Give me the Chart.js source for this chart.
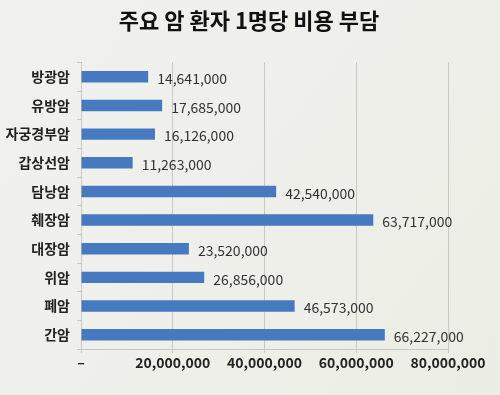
<!DOCTYPE html>
<html><head><meta charset="utf-8">
<script src="https://cdn.jsdelivr.net/npm/chart.js@4/dist/chart.umd.min.js"></script>
<style>html,body{margin:0;padding:0;background:#f0f0ec}#wrap{width:500px;height:395px}</style>
</head><body><div id="wrap"><canvas id="c" width="500" height="395"></canvas></div>
<script>
const categories = ['방광암','유방암','자궁경부암','갑상선암','담낭암','췌장암','대장암','위암','폐암','간암'];
const values = [14641000,17685000,16126000,11263000,42540000,63717000,23520000,26856000,46573000,66227000];
const xTicks = [0,20000000,40000000,60000000,80000000];
const title = '주요 암 환자 1명당 비용 부담';
const KR = '"Noto Sans CJK KR", "Noto Sans", sans-serif';
const fmt = v => v === 0 ? '–' : v.toLocaleString('en-US');

const bgPlugin = {
  id: 'bg',
  beforeDraw(chart) {
    const {ctx, width, height} = chart;
    const g = ctx.createLinearGradient(0, 0, width, height);
    g.addColorStop(0, '#f1f1f0');
    g.addColorStop(1, '#eceee4');
    ctx.save(); ctx.fillStyle = g; ctx.fillRect(0, 0, width, height); ctx.restore();
  }
};
const titlePlugin = {
  id: 'ctitle',
  afterDraw(chart) {
    const {ctx, width} = chart;
    ctx.save();
    ctx.font = 'bold 22px ' + KR;
    ctx.fillStyle = '#111';
    ctx.textAlign = 'center';
    ctx.textBaseline = 'middle';
    ctx.fillText(title, width / 2 - 1, 21);
    ctx.restore();
  }
};
const labelPlugin = {
  id: 'vlabels',
  afterDatasetsDraw(chart) {
    const {ctx} = chart;
    const meta = chart.getDatasetMeta(0);
    ctx.save();
    ctx.font = '14px ' + KR;
    ctx.fillStyle = '#333';
    ctx.textBaseline = 'middle';
    meta.data.forEach((el, i) => {
      ctx.fillText(fmt(chart.data.datasets[0].data[i]), el.x + 9, el.y + 2);
    });
    ctx.restore();
  }
};

new Chart(document.getElementById('c'), {
  type: 'bar',
  data: { labels: categories, datasets: [{ data: values, backgroundColor: '#4679bd', borderWidth: 0, barPercentage: 0.4, categoryPercentage: 1 }] },
  options: {
    indexAxis: 'y', responsive: false, animation: false, devicePixelRatio: 1,
    layout: { padding: { left: 0, right: 52, top: 62.5, bottom: 0 } },
    plugins: {
      legend: { display: false }, tooltip: { enabled: false }, title: { display: false }
    },
    scales: {
      x: {
        min: 0, max: 80000000,
        afterBuildTicks: s => { s.ticks = xTicks.map(v => ({ value: v })); },
        afterFit: s => { s.height = 395 - 349; },
        grid: { color: '#c9c9c4', tickLength: 4, drawTicks: true },
        border: { color: '#c9c9c4' },
        ticks: { callback: v => fmt(v), color: '#222', font: { family: KR, size: 14, weight: 'bold' }, padding: 1, maxRotation: 0 }
      },
      y: {
        afterFit: s => { s.width = 81; },
        grid: { drawOnChartArea: false, tickLength: 4, color: '#c9c9c4', offset: true },
        border: { color: '#c9c9c4' },
        ticks: { color: '#222', font: { family: KR, size: 14, weight: 'bold' }, padding: 7 }
      }
    }
  },
  plugins: [bgPlugin, labelPlugin, titlePlugin]
});
</script></body></html>
